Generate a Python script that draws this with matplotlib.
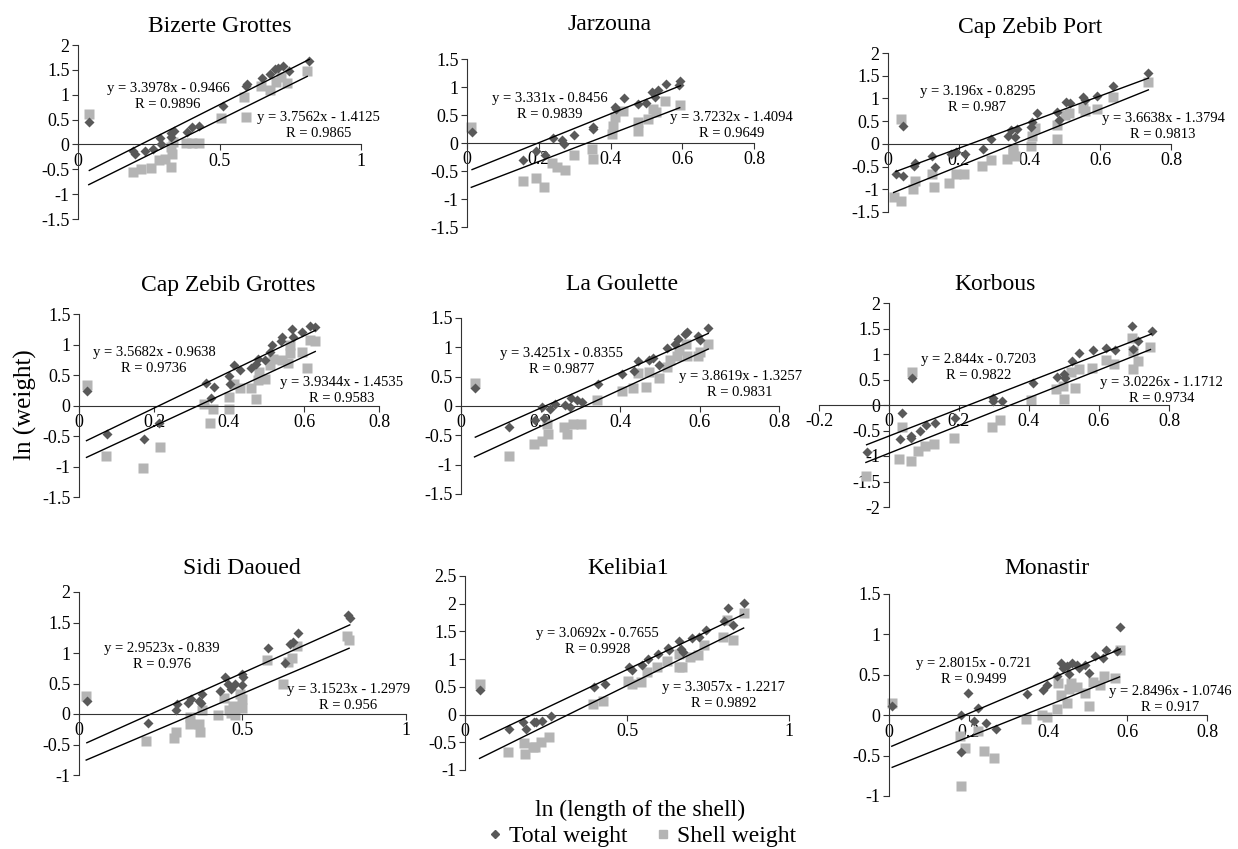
import matplotlib.pyplot as plt
import numpy as np
from matplotlib.lines import Line2D
from matplotlib.ticker import FormatStrFormatter

plt.rcParams['font.family'] = 'Liberation Serif'
plt.rcParams['axes.unicode_minus'] = False

W, H = 1238, 849

sites = ['Bizerte Grottes', 'Jarzouna', 'Cap Zebib Port',
         'Cap Zebib Grottes', 'La Goulette', 'Korbous',
         'Sidi Daoued', 'Kelibia1', 'Monastir']

# total weight (diamonds): ln(length), ln(weight)
tot_x = [
    [0.04, 0.196, 0.2, 0.235, 0.264, 0.29, 0.294, 0.327, 0.34, 0.33, 0.385, 0.404, 0.427, 0.512,
     0.593, 0.597, 0.65, 0.678, 0.695, 0.707, 0.725, 0.746, 0.817],
    [0.014, 0.156, 0.193, 0.218, 0.241, 0.264, 0.271, 0.298, 0.35, 0.352, 0.413, 0.415, 0.438,
     0.477, 0.499, 0.517, 0.524, 0.533, 0.554, 0.592, 0.595],
    [0.022, 0.041, 0.041, 0.074, 0.077, 0.125, 0.132, 0.177, 0.193, 0.217, 0.269, 0.292, 0.338,
     0.349, 0.358, 0.366, 0.403, 0.406, 0.42, 0.478, 0.484, 0.502, 0.514, 0.552, 0.557, 0.592,
     0.635, 0.736],
    [0.02, 0.075, 0.174, 0.212, 0.339, 0.352, 0.361, 0.401, 0.403, 0.414, 0.43, 0.458, 0.472,
     0.476, 0.496, 0.508, 0.514, 0.541, 0.538, 0.567, 0.57, 0.594, 0.616, 0.63],
    [0.036, 0.122, 0.187, 0.204, 0.208, 0.224, 0.237, 0.262, 0.273, 0.277, 0.291, 0.304, 0.344,
     0.406, 0.435, 0.446, 0.474, 0.482, 0.499, 0.519, 0.539, 0.545, 0.564, 0.568, 0.597, 0.6,
     0.622],
    [-0.064, 0.036, 0.031, 0.062, 0.062, 0.065, 0.088, 0.106, 0.131, 0.188, 0.296, 0.296, 0.322,
     0.41, 0.479, 0.5, 0.502, 0.524, 0.543, 0.583, 0.619, 0.645, 0.693, 0.696, 0.712, 0.75],
    [0.024, 0.211, 0.296, 0.301, 0.334, 0.342, 0.368, 0.373, 0.375, 0.431, 0.447, 0.457, 0.464,
     0.477, 0.5, 0.497, 0.503, 0.579, 0.63, 0.645, 0.655, 0.67, 0.823, 0.828],
    [0.047, 0.136, 0.179, 0.188, 0.212, 0.219, 0.239, 0.264, 0.399, 0.432, 0.506, 0.514, 0.547,
     0.564, 0.597, 0.625, 0.631, 0.662, 0.666, 0.674, 0.7, 0.721, 0.743, 0.798, 0.813, 0.827,
     0.86],
    [0.007, 0.181, 0.181, 0.198, 0.215, 0.225, 0.243, 0.269, 0.347, 0.387, 0.397, 0.422, 0.433,
     0.437, 0.449, 0.452, 0.46, 0.473, 0.477, 0.494, 0.504, 0.519, 0.538, 0.547, 0.573, 0.582],
]
tot_y = [
    [0.46, -0.13, -0.19, -0.13, -0.1, 0.12, 0.0, 0.23, 0.27, 0.14, 0.25, 0.36, 0.37, 0.77,
     1.17, 1.21, 1.34, 1.42, 1.52, 1.54, 1.58, 1.48, 1.68],
    [0.19, -0.31, -0.15, -0.22, 0.09, 0.05, -0.01, 0.14, 0.25, 0.29, 0.65, 0.61, 0.81,
     0.69, 0.72, 0.91, 0.82, 0.95, 1.05, 1.03, 1.11],
    [-0.67, 0.39, -0.7, -0.48, -0.43, -0.27, -0.51, -0.22, -0.18, -0.23, -0.12, 0.1, 0.17,
     0.3, 0.15, 0.33, 0.37, 0.48, 0.68, 0.7, 0.53, 0.92, 0.9, 1.03, 0.97, 1.05,
     1.28, 1.55],
    [0.24, -0.47, -0.55, -0.28, 0.37, 0.12, 0.31, 0.48, 0.36, 0.66, 0.59, 0.61, 0.68,
     0.77, 0.75, 0.88, 0.99, 1.13, 1.05, 1.25, 1.13, 1.2, 1.31, 1.28],
    [0.3, -0.36, -0.24, -0.02, -0.2, -0.05, 0.03, 0.02, -0.02, 0.14, 0.11, 0.07, 0.38,
     0.54, 0.59, 0.77, 0.79, 0.81, 0.7, 0.99, 1.05, 1.15, 1.23, 1.26, 1.2, 1.13,
     1.33],
    [-0.92, -0.16, -0.67, -0.61, -0.64, 0.53, -0.5, -0.39, -0.35, -0.25, 0.14, 0.07, 0.08,
     0.44, 0.55, 0.61, 0.53, 0.86, 1.02, 1.07, 1.12, 1.07, 1.54, 1.09, 1.25, 1.45],
    [0.21, -0.14, 0.07, 0.17, 0.18, 0.24, 0.21, 0.18, 0.32, 0.37, 0.6, 0.49, 0.41,
     0.49, 0.48, 0.65, 0.6, 1.08, 0.84, 1.14, 1.18, 1.33, 1.62, 1.57],
    [0.44, -0.26, -0.13, -0.26, -0.14, -0.13, -0.11, -0.02, 0.49, 0.56, 0.85, 0.8, 0.89,
     1.01, 1.1, 1.2, 1.16, 1.32, 1.19, 1.12, 1.38, 1.4, 1.52, 1.69, 1.93, 1.61,
     2.02],
    [0.12, 0.0, -0.46, 0.28, -0.07, 0.09, -0.1, -0.17, 0.26, 0.31, 0.37, 0.48, 0.65,
     0.59, 0.61, 0.51, 0.65, 0.62, 0.58, 0.62, 0.52, 0.73, 0.71, 0.81, 0.79, 1.09],
]

# shell weight (squares)
shl_x = [
    [0.038, 0.194, 0.223, 0.258, 0.286, 0.306, 0.33, 0.332, 0.33, 0.335, 0.38, 0.404, 0.427,
     0.507, 0.586, 0.595, 0.648, 0.678, 0.701, 0.719, 0.737, 0.81],
    [0.012, 0.156, 0.192, 0.216, 0.236, 0.25, 0.273, 0.297, 0.348, 0.35, 0.403, 0.408, 0.413,
     0.436, 0.477, 0.476, 0.505, 0.519, 0.528, 0.551, 0.593],
    [0.016, 0.036, 0.036, 0.071, 0.075, 0.123, 0.13, 0.173, 0.193, 0.214, 0.267, 0.29, 0.335,
     0.352, 0.354, 0.358, 0.403, 0.406, 0.415, 0.478, 0.478, 0.5, 0.512, 0.552, 0.558, 0.592,
     0.635, 0.736],
    [0.02, 0.073, 0.171, 0.215, 0.334, 0.348, 0.357, 0.399, 0.4, 0.412, 0.428, 0.458, 0.472,
     0.476, 0.479, 0.496, 0.51, 0.517, 0.541, 0.556, 0.563, 0.563, 0.594, 0.607, 0.616, 0.63],
    [0.034, 0.12, 0.183, 0.204, 0.219, 0.216, 0.26, 0.266, 0.283, 0.302, 0.342, 0.404, 0.432,
     0.445, 0.465, 0.472, 0.497, 0.518, 0.526, 0.543, 0.549, 0.568, 0.566, 0.597, 0.6, 0.622],
    [-0.066, 0.036, 0.029, 0.062, 0.065, 0.084, 0.103, 0.128, 0.186, 0.293, 0.317, 0.407, 0.477,
     0.498, 0.5, 0.521, 0.531, 0.543, 0.581, 0.619, 0.642, 0.693, 0.696, 0.696, 0.712, 0.747],
    [0.022, 0.204, 0.291, 0.297, 0.338, 0.338, 0.368, 0.37, 0.375, 0.426, 0.443, 0.46, 0.464,
     0.472, 0.477, 0.492, 0.5, 0.5, 0.576, 0.625, 0.64, 0.65, 0.668, 0.82, 0.826],
    [0.045, 0.133, 0.181, 0.185, 0.21, 0.215, 0.236, 0.26, 0.394, 0.427, 0.504, 0.514, 0.543,
     0.563, 0.594, 0.623, 0.659, 0.662, 0.669, 0.695, 0.718, 0.738, 0.796, 0.81, 0.827, 0.86],
    [0.008, 0.181, 0.179, 0.19, 0.225, 0.24, 0.264, 0.344, 0.385, 0.397, 0.422, 0.426, 0.432,
     0.449, 0.452, 0.458, 0.473, 0.494, 0.502, 0.514, 0.531, 0.542, 0.569, 0.58],
]
shl_y = [
    [0.61, -0.55, -0.5, -0.48, -0.32, -0.3, -0.45, -0.19, -0.05, 0.05, 0.02, 0.02, 0.03,
     0.54, 0.96, 0.56, 1.17, 1.09, 1.26, 1.36, 1.24, 1.48],
    [0.28, -0.68, -0.62, -0.79, -0.36, -0.42, -0.48, -0.21, -0.1, -0.28, 0.16, 0.31, 0.46,
     0.58, 0.22, 0.37, 0.43, 0.61, 0.55, 0.75, 0.68],
    [-1.16, 0.55, -1.25, -0.99, -0.82, -0.67, -0.95, -0.86, -0.67, -0.66, -0.48, -0.36, -0.34,
     -0.2, -0.12, -0.27, -0.04, 0.18, 0.35, 0.42, 0.11, 0.64, 0.68, 0.79, 0.72, 0.77,
     1.03, 1.36],
    [0.33, -0.83, -1.02, -0.68, 0.03, -0.29, -0.06, -0.06, 0.14, 0.36, 0.28, 0.29, 0.11,
     0.41, 0.55, 0.44, 0.66, 0.77, 0.75, 0.7, 0.86, 1.0, 0.88, 0.62, 1.08, 1.05],
    [0.39, -0.86, -0.64, -0.6, -0.47, -0.31, -0.36, -0.48, -0.31, -0.3, 0.1, 0.26, 0.31,
     0.56, 0.32, 0.58, 0.47, 0.66, 0.78, 0.86, 0.95, 0.86, 1.06, 0.85, 0.92, 1.06],
    [-1.4, -0.44, -1.06, -1.09, 0.65, -0.9, -0.8, -0.77, -0.64, -0.43, -0.29, 0.09, 0.31,
     0.37, 0.11, 0.64, 0.34, 0.7, 0.73, 0.89, 0.81, 1.32, 1.06, 0.7, 0.86, 1.14],
    [0.29, -0.45, -0.39, -0.3, -0.05, -0.16, -0.16, -0.3, 0.07, -0.02, 0.26, 0.07, 0.02,
     0.13, -0.01, 0.33, 0.24, 0.1, 0.88, 0.49, 0.86, 0.91, 1.11, 1.28, 1.21],
    [0.55, -0.68, -0.52, -0.71, -0.59, -0.59, -0.5, -0.41, 0.19, 0.25, 0.61, 0.55, 0.59,
     0.76, 0.85, 0.97, 1.09, 0.85, 0.86, 1.04, 1.07, 1.25, 1.4, 1.7, 1.34, 1.83],
    [0.15, -0.88, -0.26, -0.41, -0.19, -0.44, -0.53, -0.05, 0.0, -0.02, 0.08, 0.4, 0.25,
     0.15, 0.33, 0.4, 0.35, 0.27, 0.12, 0.41, 0.37, 0.48, 0.46, 0.81],
]

# equations as printed on the chart
tot_a = [3.3978, 3.331, 3.196, 3.5682, 3.4251, 2.844, 2.9523, 3.0692, 2.8015]
tot_b = [-0.9466, -0.8456, -0.8295, -0.9638, -0.8355, -0.7203, -0.839, -0.7655, -0.721]
tot_r = ['0.9896', '0.9839', '0.987', '0.9736', '0.9877', '0.9822', '0.976', '0.9928', '0.9499']
shl_a = [3.7562, 3.7232, 3.6638, 3.9344, 3.8619, 3.0226, 3.1523, 3.3057, 2.8496]
shl_b = [-1.4125, -1.4094, -1.3794, -1.4535, -1.3257, -1.1712, -1.2979, -1.2217, -1.0746]
shl_r = ['0.9865', '0.9649', '0.9813', '0.9583', '0.9831', '0.9734', '0.956', '0.9892', '0.917']

# axes boxes in pixels: left, right, top, bottom; data limits
boxes = [(78, 361, 45, 219), (467, 754, 59, 227), (888, 1171, 53, 212),
         (79, 379, 314, 497), (461, 779, 318, 494), (819, 1169, 303, 507),
         (79, 406, 592, 775), (465, 789, 576, 770), (889, 1207, 594, 796)]
xlims = [(0, 1), (0, 0.8), (0, 0.8), (0, 0.8), (0, 0.8), (-0.2, 0.8), (0, 1), (0, 1), (0, 0.8)]
ylims = [(-1.5, 2), (-1.5, 1.5), (-1.5, 2), (-1.5, 1.5), (-1.5, 1.5), (-2, 2), (-1, 2), (-1, 2.5), (-1, 1.5)]
titles_px = [(220, 27), (610, 25), (1030, 27), (228, 285), (622, 285), (995, 285),
             (242, 569), (628, 569), (1047, 569)]
eq1_pos = [(0.318, 0.97), (0.232, 0.65), (0.253, 0.97), (0.2, 0.73), (0.254, 0.76),
           (0.255, 0.73), (0.253, 0.94), (0.408, 1.31), (0.212, 0.535)]
eq2_pos = [(0.849, 0.376), (0.737, 0.32), (0.778, 0.38), (0.7, 0.24), (0.702, 0.36),
           (0.778, 0.29), (0.823, 0.27), (0.798, 0.34), (0.708, 0.195)]

dark = '#595959'
light = '#b4b4b4'

fig = plt.figure(figsize=(W / 100, H / 100), dpi=100)

for i in range(9):
    l, r, t, b = boxes[i]
    ax = fig.add_axes([l / W, 1 - b / H, (r - l) / W, (b - t) / H])
    ax.set_xlim(*xlims[i])
    ax.set_ylim(*ylims[i])
    ax.patch.set_alpha(0)

    ax.plot(shl_x[i], shl_y[i], 's', color=light, ms=7, mec='none', zorder=2, clip_on=False)
    ax.plot(tot_x[i], tot_y[i], 'D', color=dark, ms=5.2, mec='none', zorder=3, clip_on=False)

    # least-squares trend line over the plotted points
    for xs, ys in [(tot_x[i], tot_y[i]), (shl_x[i], shl_y[i])]:
        a, c = np.polyfit(xs, ys, 1)
        xx = np.array([min(xs), max(xs)])
        ax.plot(xx, a * xx + c, color='black', lw=1, zorder=4)

    ax.text(*eq1_pos[i], 'y = %gx - %g\nR = %s' % (tot_a[i], -tot_b[i], tot_r[i]),
            ha='center', va='center', fontsize=10.5, linespacing=1.3, zorder=5)
    ax.text(*eq2_pos[i], 'y = %gx - %g\nR = %s' % (shl_a[i], -shl_b[i], shl_r[i]),
            ha='center', va='center', fontsize=10.5, linespacing=1.3, zorder=5)

    for s in ['top', 'right']:
        ax.spines[s].set_visible(False)
    ax.spines['left'].set_position(('data', 0))
    ax.spines['bottom'].set_position(('data', 0))
    ax.spines['left'].set_color('#333333')
    ax.spines['bottom'].set_color('#333333')
    x0, x1 = xlims[i]
    step = 0.5 if x1 == 1 else 0.2
    ax.set_xticks(np.arange(x0, x1 + 1e-9, step))
    y0, y1 = ylims[i]
    ax.set_yticks(np.arange(y0, y1 + 1e-9, 0.5))
    ax.xaxis.set_major_formatter(FormatStrFormatter('%g'))
    ax.yaxis.set_major_formatter(FormatStrFormatter('%g'))
    ax.tick_params(direction='out', length=4, width=0.8, color='#333333', labelsize=13, pad=2)

    tx, ty = titles_px[i]
    fig.text(tx / W, 1 - ty / H, sites[i], ha='center', va='center', fontsize=17)

fig.text(25 / W, 1 - 405 / H, 'ln (weight)', rotation=90, ha='center', va='center', fontsize=18)
fig.text(640 / W, 1 - 810 / H, 'ln (length of the shell)', ha='center', va='center', fontsize=17)

handles = [Line2D([], [], ls='none', marker='D', color=dark, ms=4),
           Line2D([], [], ls='none', marker='s', color=light, ms=6)]
fig.legend(handles, ['Total weight', 'Shell weight'], loc='center', ncol=2,
           bbox_to_anchor=(640 / W, 1 - 836 / H), frameon=False, fontsize=17,
           handletextpad=0.1, columnspacing=1.0, handlelength=1, borderpad=0)

plt.savefig('out.png', dpi=100)
